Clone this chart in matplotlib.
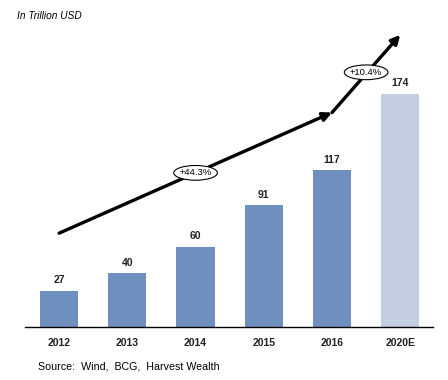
import matplotlib
matplotlib.use("Agg")
import matplotlib.pyplot as plt
from matplotlib.patches import Ellipse

plt.rcParams["font.family"] = ["Liberation Sans", "DejaVu Sans"]

# 数据
years = ["2012", "2013", "2014", "2015", "2016", "2020E"]
values = [27, 40, 60, 91, 117, 174]
bar_colors = ["#6f8fbf", "#6f8fbf", "#6f8fbf", "#6f8fbf", "#6f8fbf", "#c5cde0"]

# 趋势箭头 (x 为柱序号, y 为数值)
trend_x = [0.0, 4.0, 5.0]
trend_y = [70, 160, 218]
growth_labels = ["+44.3%", "+10.4%"]
growth_pos = [(2.0, 115), (4.5, 190)]

fig = plt.figure(figsize=(4.48, 3.8), dpi=100)
ax = fig.add_axes([0.0558, 0.1395, 0.9107, 0.776])

xs = range(len(years))
ax.bar(xs, values, width=0.56, color=bar_colors, zorder=2)
for x, v in zip(xs, values):
    ax.text(x, v + 4, f"{v}", ha="center", va="bottom", fontsize=7.5,
            fontweight="bold", color="#222222")

# 箭头
for i in range(len(trend_x) - 1):
    ax.annotate("", xy=(trend_x[i + 1], trend_y[i + 1]),
                xytext=(trend_x[i], trend_y[i]),
                arrowprops=dict(arrowstyle="-|>", color="black", lw=2.4,
                                mutation_scale=13, shrinkA=0, shrinkB=0),
                zorder=4)

# 椭圆标签
for (gx, gy), lab in zip(growth_pos, growth_labels):
    ax.add_patch(Ellipse((gx, gy), width=0.64, height=11, facecolor="white",
                         edgecolor="black", lw=0.8, zorder=5))
    ax.text(gx, gy, lab, ha="center", va="center", fontsize=6.8, zorder=6)

ax.set_xlim(-0.5, 5.48)
ax.set_ylim(0, 220)
for s in ["top", "right", "left"]:
    ax.spines[s].set_visible(False)
ax.spines["bottom"].set_linewidth(1.0)
ax.set_yticks([])
ax.set_xticks(list(xs))
ax.set_xticklabels(years, fontsize=7.5, fontweight="bold", color="#222222")
ax.tick_params(axis="x", length=0, pad=8)

fig.text(0.038, 0.958, "In Trillion USD", fontsize=7.3, style="italic",
         ha="left", va="center")
fig.text(0.085, 0.035, "Source:  Wind,  BCG,  Harvest Wealth", fontsize=7.7,
         ha="left", va="center")

fig.savefig("out.png", dpi=100)
